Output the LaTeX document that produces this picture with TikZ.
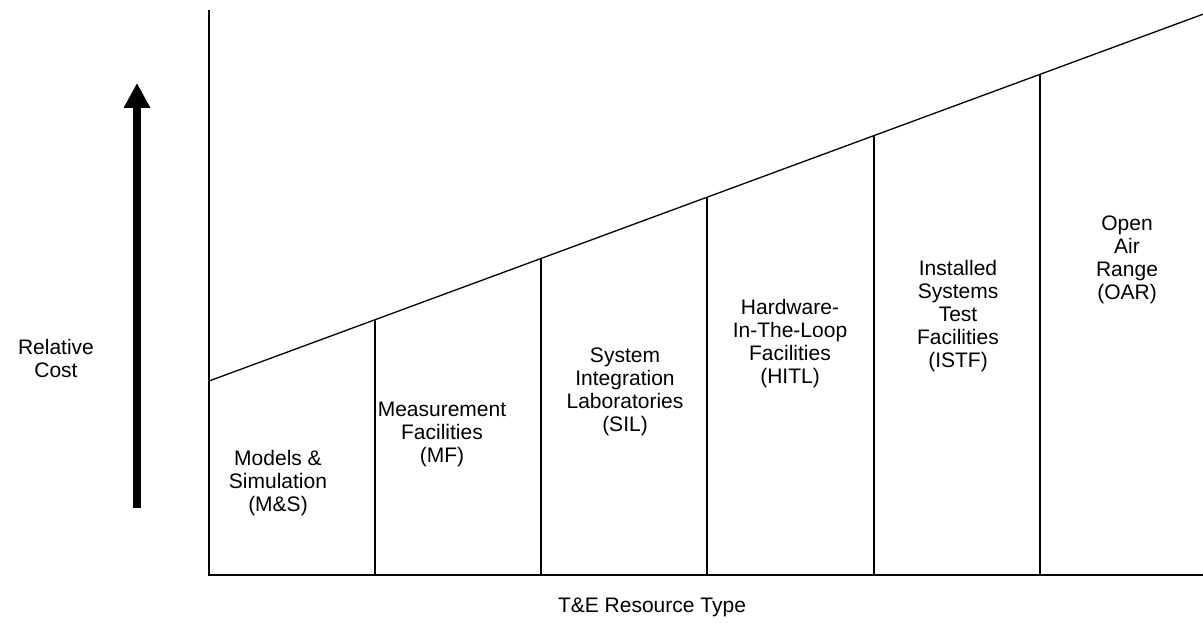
\documentclass[tikz,border=0pt]{standalone}
\usepackage{fontspec}
\setmainfont{Liberation Sans}
\usetikzlibrary{arrows.meta}
\begin{document}
\begin{tikzpicture}[x=1pt,y=-1pt,
  axis/.style={line width=1.6pt,black},
  divider/.style={line width=1.6pt,black},
  lbl/.style={align=center,font=\fontsize{21}{23}\selectfont,inner sep=0pt},
]
\useasboundingbox (0,0) rectangle (1203,623);
% axes
\coordinate (ytop) at (209,10);
\coordinate (origin) at (209,575);
\coordinate (xend) at (1203,575);
\draw[axis] (ytop) -- (origin) -- (xend);
% cost line
\coordinate (s0) at (209,381);
\coordinate (s1) at (375,319.7);
\coordinate (s2) at (541,258.5);
\coordinate (s3) at (707,197.2);
\coordinate (s4) at (874,135.6);
\coordinate (s5) at (1040,74.4);
\coordinate (s6) at (1203,14.2);
\draw[line width=1.3pt] (s0) -- (s6);
% dividers
\foreach \i/\x in {1/375,2/541,3/707,4/874,5/1040}{
  \coordinate (b\i) at (\x,575);
  \draw[divider] (b\i) -- (s\i);
}
% arrow
\coordinate (abot) at (137,508);
\coordinate (atop) at (137,83);
\draw[line width=8pt,-{Triangle[width=25pt,length=25pt]}] (abot) -- (atop);
% labels
\node[lbl] (rc) at (56,358) {Relative\\Cost};
\node[lbl] (xl) at (652,607) {T\&E Resource Type};
\node[lbl] (ms) at (278,483) {Models \&\\Simulation\\(M\&S)};
\node[lbl] (mf) at (442,434) {Measurement\\Facilities\\(MF)};
\node[lbl] (sil) at (625,392) {System\\Integration\\Laboratories\\(SIL)};
\node[lbl] (hitl) at (790,344) {Hardware-\\In-The-Loop\\Facilities\\(HITL)};
\node[lbl] (istf) at (958,316) {Installed\\Systems\\Test\\Facilities\\(ISTF)};
\node[lbl] (oar) at (1127,260) {Open\\Air\\Range\\(OAR)};
\end{tikzpicture}
\end{document}
